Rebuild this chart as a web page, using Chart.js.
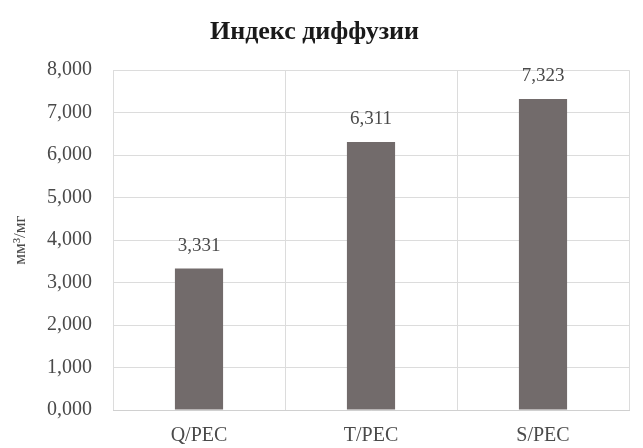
<!DOCTYPE html>
<html>
<head>
<meta charset="utf-8">
<script src="https://cdn.jsdelivr.net/npm/chart.js@4/dist/chart.umd.min.js"></script>
<style>
  html, body { margin: 0; padding: 0; background: #fff; }
  #wrap { width: 643px; height: 448px; position: relative; }
</style>
</head>
<body>
<div id="wrap"><canvas id="diffChart"></canvas></div>
<script>
// chart data
const categories = ['Q/PEC', 'T/PEC', 'S/PEC'];
const diffIndex = [3.331, 6.311, 7.323];
const yTicks = [0, 1, 2, 3, 4, 5, 6, 7, 8];

const fmt = v => v.toFixed(3).replace('.', ',');
const serif = "'Liberation Serif', 'DejaVu Serif', serif";

// draws the value above each bar
const valueLabels = {
    id: 'valueLabels',
    afterDatasetsDraw(chart) {
        const ctx = chart.ctx;
        const meta = chart.getDatasetMeta(0);
        ctx.save();
        ctx.font = '19px ' + serif;
        ctx.fillStyle = '#4a4a4a';
        ctx.textAlign = 'center';
        ctx.textBaseline = 'middle';
        meta.data.forEach((bar, i) => {
            ctx.fillText(fmt(diffIndex[i]), bar.x, bar.y - 23);
        });
        ctx.restore();
    }
};

const ctx = document.getElementById('diffChart').getContext('2d');
new Chart(ctx, {
    type: 'bar',
    data: {
        labels: categories,
        datasets: [{
            data: diffIndex,
            backgroundColor: '#726b6b',
            barPercentage: 0.56,
            categoryPercentage: 0.5
        }]
    },
    options: {
        responsive: true,
        maintainAspectRatio: false,
        animation: false,
        layout: { padding: { left: 0, right: 14, top: 0, bottom: 0 } },
        scales: {
            x: {
                grid: { color: '#dcdcdc', drawTicks: false, offset: true },
                border: { color: '#d0d0d0' },
                ticks: { color: '#4a4a4a', font: { family: serif, size: 20 }, padding: 14 },
                afterFit: s => { s.height = 38; }
            },
            y: {
                min: 0,
                max: 8,
                afterBuildTicks: s => { s.ticks = yTicks.map(v => ({ value: v })); },
                grid: { color: '#dcdcdc', drawTicks: false },
                border: { display: false },
                ticks: {
                    color: '#4a4a4a',
                    font: { family: serif, size: 20 },
                    padding: 21,
                    callback: v => fmt(v)
                },
                title: {
                    display: true,
                    text: 'мм³/мг',
                    color: '#4a4a4a',
                    font: { family: serif, size: 17 },
                    padding: { top: 10, bottom: 0 }
                },
                afterFit: s => { s.width = 113; }
            }
        },
        plugins: {
            legend: { display: false },
            tooltip: { enabled: false },
            title: {
                display: true,
                text: 'Индекс диффузии',
                color: '#1a1a1a',
                font: { family: serif, size: 26, weight: 'bold' },
                padding: { top: 17, bottom: 22 }
            }
        }
    },
    plugins: [valueLabels]
});
</script>
</body>
</html>
